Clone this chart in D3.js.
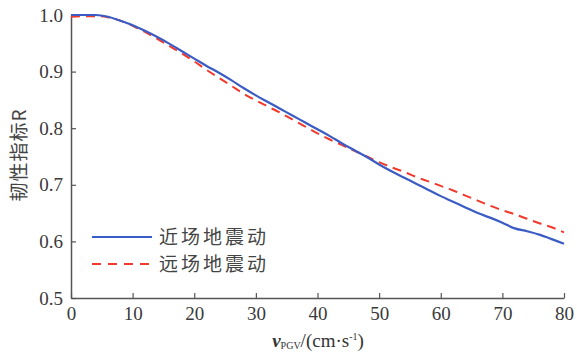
<!DOCTYPE html>
<head>
<style>
body { margin: 0; background: #fff; }
svg text { font-family: 'Liberation Serif', 'Times New Roman', serif; }
svg text.cjk { font-family: 'Noto Sans CJK SC', sans-serif; }
</style>
</head>
<body>
<svg width="577" height="354"></svg>
<script src="https://d3js.org/d3.v7.min.js"></script>
<script>

// PGV values (cm/s)
var pgv = [0, 2, 4, 6, 8, 10, 12, 14, 16, 18, 20, 22, 24, 26, 28, 30, 32, 34, 36, 38, 40,
           42, 44, 46, 48, 50, 52, 54, 56, 58, 60, 62, 64, 66, 68, 70, 72, 74, 76, 78, 80];
// near-field
var nearR = [1.0, 1.0, 1.0, 0.997, 0.990, 0.982, 0.972, 0.961, 0.949, 0.936, 0.923, 0.910, 0.898, 0.885, 0.871, 0.858,
             0.846, 0.834, 0.822, 0.810, 0.798, 0.786, 0.773, 0.761, 0.749, 0.736, 0.724, 0.713, 0.702, 0.691, 0.680,
             0.670, 0.660, 0.650, 0.642, 0.633, 0.623, 0.618, 0.612, 0.604, 0.596];
// far-field
var farR = [0.997, 0.998, 0.998, 0.996, 0.990, 0.981, 0.970, 0.958, 0.945, 0.932, 0.918, 0.903, 0.889, 0.875, 0.861, 0.849,
            0.838, 0.827, 0.815, 0.803, 0.791, 0.780, 0.770, 0.760, 0.750, 0.740, 0.731, 0.723, 0.714, 0.706, 0.698,
            0.690, 0.681, 0.672, 0.663, 0.655, 0.648, 0.640, 0.632, 0.625, 0.616];
var xTicks = [0, 10, 20, 30, 40, 50, 60, 70, 80];
var yTicks = [0.5, 0.6, 0.7, 0.8, 0.9, 1.0];
var names = ["近场地震动", "远场地震动"];

var svg = d3.select("svg");
var x = d3.scaleLinear().domain([0, 80]).range([71, 564]);
var y = d3.scaleLinear().domain([0.5, 1.0]).range([298, 15]);
var axisColor = "#555";

var xAxis = svg.append("g").attr("transform", "translate(0,298)")
  .call(d3.axisBottom(x).tickValues(xTicks).tickSizeInner(-5).tickSizeOuter(0).tickPadding(9).tickFormat(d3.format("d")));
var yAxis = svg.append("g").attr("transform", "translate(71,0)")
  .call(d3.axisLeft(y).tickValues(yTicks).tickSizeInner(-5).tickSizeOuter(0).tickPadding(8).tickFormat(d3.format(".1f")));

[xAxis, yAxis].forEach(function(a) {
  a.attr("font-family", null).attr("font-size", null);
  a.select(".domain").attr("stroke", axisColor).attr("stroke-width", 1.5);
  a.selectAll(".tick line").attr("stroke", axisColor).attr("stroke-width", 1.2);
  a.selectAll(".tick text").attr("fill", "#3a3a3a")
    .style("font-family", "'Liberation Serif', serif").style("font-size", "19px");
});

var line = d3.line().x(function(d) { return x(d[0]); }).y(function(d) { return y(d[1]); }).curve(d3.curveMonotoneX);

svg.append("path").datum(pgv.map(function(v, i) { return [v, farR[i]]; }))
  .attr("d", line).attr("fill", "none").attr("stroke", "#f2392b").attr("stroke-width", 2)
  .attr("stroke-dasharray", "9,6");
svg.append("path").datum(pgv.map(function(v, i) { return [v, nearR[i]]; }))
  .attr("d", line).attr("fill", "none").attr("stroke", "#3b5cc4").attr("stroke-width", 2.2);

// legend
var leg = svg.append("g");
[["#3b5cc4", null, 237], ["#f2392b", "9,7", 264]].forEach(function(s, i) {
  leg.append("line").attr("x1", 92).attr("x2", 152).attr("y1", s[2]).attr("y2", s[2])
    .attr("stroke", s[0]).attr("stroke-width", 2).attr("stroke-dasharray", s[1]);
  leg.append("text").attr("class", "cjk").attr("x", 159).attr("y", s[2] + 7).text(names[i])
    .attr("fill", "#444").style("font-size", "19px").style("letter-spacing", "3px");
});

// y label
svg.append("text").attr("class", "cjk").attr("transform", "translate(26,155) rotate(-90)").attr("text-anchor", "middle")
  .attr("fill", "#444").style("font-size", "19px").style("letter-spacing", "1px")
  .text("韧性指标R");

// x label
var xl = svg.append("text").attr("x", 318).attr("y", 347).attr("text-anchor", "middle")
  .attr("fill", "#333").style("font-size", "19px");
xl.append("tspan").attr("font-style", "italic").attr("font-weight", "bold").text("v");
xl.append("tspan").style("font-size", "10px").attr("dy", 2).text("PGV");
xl.append("tspan").attr("dy", -2).text("/(cm·s");
xl.append("tspan").style("font-size", "10px").attr("dy", -7).text("-1");
xl.append("tspan").attr("dy", 7).text(")");

</script>
</body>
